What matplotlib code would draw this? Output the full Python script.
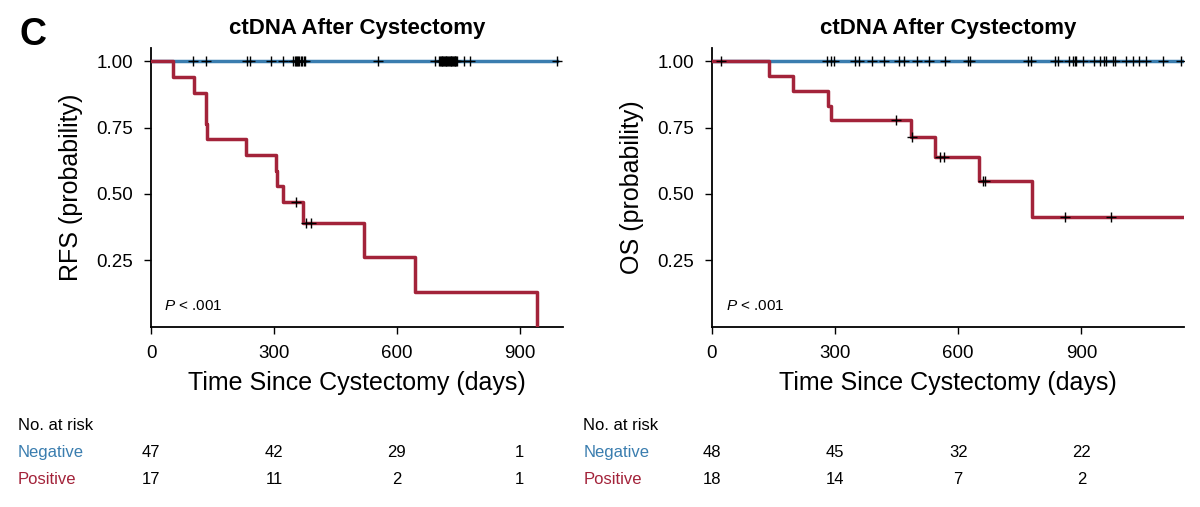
import numpy as np
import matplotlib
matplotlib.use('Agg')
import matplotlib.pyplot as plt
import matplotlib.transforms as mtransforms

plt.rcParams['font.family'] = ['Liberation Sans', 'DejaVu Sans']
plt.rcParams['mathtext.fontset'] = 'custom'
plt.rcParams['mathtext.rm'] = 'Liberation Sans'
plt.rcParams['mathtext.it'] = 'Liberation Sans:italic'

# Cores
azul = '#3A7DAF'
vermelho = '#A3233A'

# Painel esquerdo (RFS)
rfs_pos_tempo = [0, 54, 105, 133, 137, 231, 305, 308, 323, 370, 520, 645, 942]
rfs_pos_surv = [1.0, 0.941, 0.882, 0.765, 0.706, 0.647, 0.588, 0.529, 0.470, 0.392, 0.261, 0.131, 0.0]
rfs_pos_cens = [353, 377, 389]
rfs_neg_cens = [103, 135, 233, 241, 293, 321, 347, 350, 353, 356, 359, 362, 365, 368,
                372, 376, 553, 694, 703, 705, 707, 709, 711, 713, 715, 717, 719, 721,
                723, 725, 727, 729, 731, 733, 735, 737, 739, 741, 743, 745, 747, 763,
                778, 991]
rfs_neg_fim = 991
rfs_xmax = 1005

# Painel direito (OS)
os_pos_tempo = [0, 139, 197, 282, 290, 484, 544, 651, 779]
os_pos_surv = [1.0, 0.944, 0.889, 0.833, 0.778, 0.716, 0.641, 0.549, 0.412]
os_pos_cens = [448, 487, 555, 566, 660, 665, 861, 972]
os_neg_cens = [22, 280, 290, 298, 349, 358, 391, 420, 456, 468, 499, 528, 569, 624,
               628, 770, 777, 835, 842, 870, 880, 884, 888, 904, 931, 945, 955, 961,
               977, 981, 1010, 1026, 1040, 1057, 1099, 1142]
os_neg_fim = 1150
os_xmax = 1150

# Tabela de risco
risco_ticks = [0, 300, 600, 900]
rfs_risco_neg = [47, 42, 29, 1]
rfs_risco_pos = [17, 11, 2, 1]
os_risco_neg = [48, 45, 32, 22]
os_risco_pos = [18, 14, 7, 2]


def surv_em(tempos, survs, t):
    idx = np.searchsorted(tempos, t, side='right') - 1
    return np.array(survs)[idx]


def painel(ax, pos_t, pos_s, pos_c, neg_c, neg_fim, xmax, ylab, ylab_x,
           risco_neg, risco_pos, tab_x):
    # curva negativa (azul)
    ax.plot([0, neg_fim], [1.0, 1.0], color=azul, lw=2.5, zorder=2)
    # curva positiva (vermelha)
    t = list(pos_t)
    s = list(pos_s)
    if t[-1] < xmax and s[-1] > 0:
        t = t + [xmax]
        s = s + [s[-1]]
    ax.step(t, s, where='post', color=vermelho, lw=2.5, zorder=3)
    # censuras
    ax.plot(neg_c, np.ones(len(neg_c)), '+', color='black', ms=7, mew=1.0, zorder=4)
    ax.plot(pos_c, surv_em(pos_t, pos_s, pos_c), '+', color='black', ms=7, mew=1.0, zorder=4)

    ax.set_xlim(0, xmax)
    ax.set_ylim(0, 1.05)
    ax.set_xticks(risco_ticks)
    ax.set_yticks([0.25, 0.5, 0.75, 1.0])
    ax.set_yticklabels(['0.25', '0.50', '0.75', '1.00'])
    ax.spines['top'].set_visible(False)
    ax.spines['right'].set_visible(False)
    ax.spines['left'].set_linewidth(1.3)
    ax.spines['bottom'].set_linewidth(1.3)
    ax.tick_params(axis='y', direction='out', length=5, width=1, labelsize=13.5, pad=8)
    ax.tick_params(axis='x', direction='out', length=5, width=1, labelsize=13.5, pad=8)
    ax.set_title('ctDNA After Cystectomy', fontsize=16, fontweight='bold', pad=10)
    ax.set_xlabel('Time Since Cystectomy (days)', fontsize=18)
    ax.xaxis.set_label_coords(0.5, -0.16)
    ax.set_ylabel(ylab, fontsize=18)
    ax.yaxis.set_label_coords(ylab_x, 0.5)
    ax.text(0.03, 0.075, r'$\mathit{P}$ < .001', transform=ax.transAxes,
            fontsize=11, va='center', ha='left')

    # tabela "No. at risk"
    trans = mtransforms.blended_transform_factory(ax.transData, fig.transFigure)
    fig.text(tab_x, 0.160, 'No. at risk', fontsize=12, va='center', ha='left')
    fig.text(tab_x, 0.108, 'Negative', fontsize=12, va='center', ha='left', color=azul)
    fig.text(tab_x, 0.055, 'Positive', fontsize=12, va='center', ha='left', color=vermelho)
    for xt, n1, n2 in zip(risco_ticks, risco_neg, risco_pos):
        ax.text(xt, 0.108, str(n1), transform=trans, fontsize=12, va='center', ha='center')
        ax.text(xt, 0.055, str(n2), transform=trans, fontsize=12, va='center', ha='center')


fig = plt.figure(figsize=(12, 5.07), dpi=100)
ax1 = fig.add_axes([0.126, 0.3556, 0.343, 0.5497])
ax2 = fig.add_axes([0.5933, 0.3556, 0.3933, 0.5497])

painel(ax1, rfs_pos_tempo, rfs_pos_surv, rfs_pos_cens, rfs_neg_cens, rfs_neg_fim,
       rfs_xmax, 'RFS (probability)', -0.166, rfs_risco_neg, rfs_risco_pos, 0.015)
painel(ax2, os_pos_tempo, os_pos_surv, os_pos_cens, os_neg_cens, os_neg_fim,
       os_xmax, 'OS (probability)', -0.145, os_risco_neg, os_risco_pos, 0.486)

fig.text(0.016, 0.93, 'C', fontsize=27, fontweight='bold', va='center', ha='left')

fig.savefig('out.png', dpi=100)
